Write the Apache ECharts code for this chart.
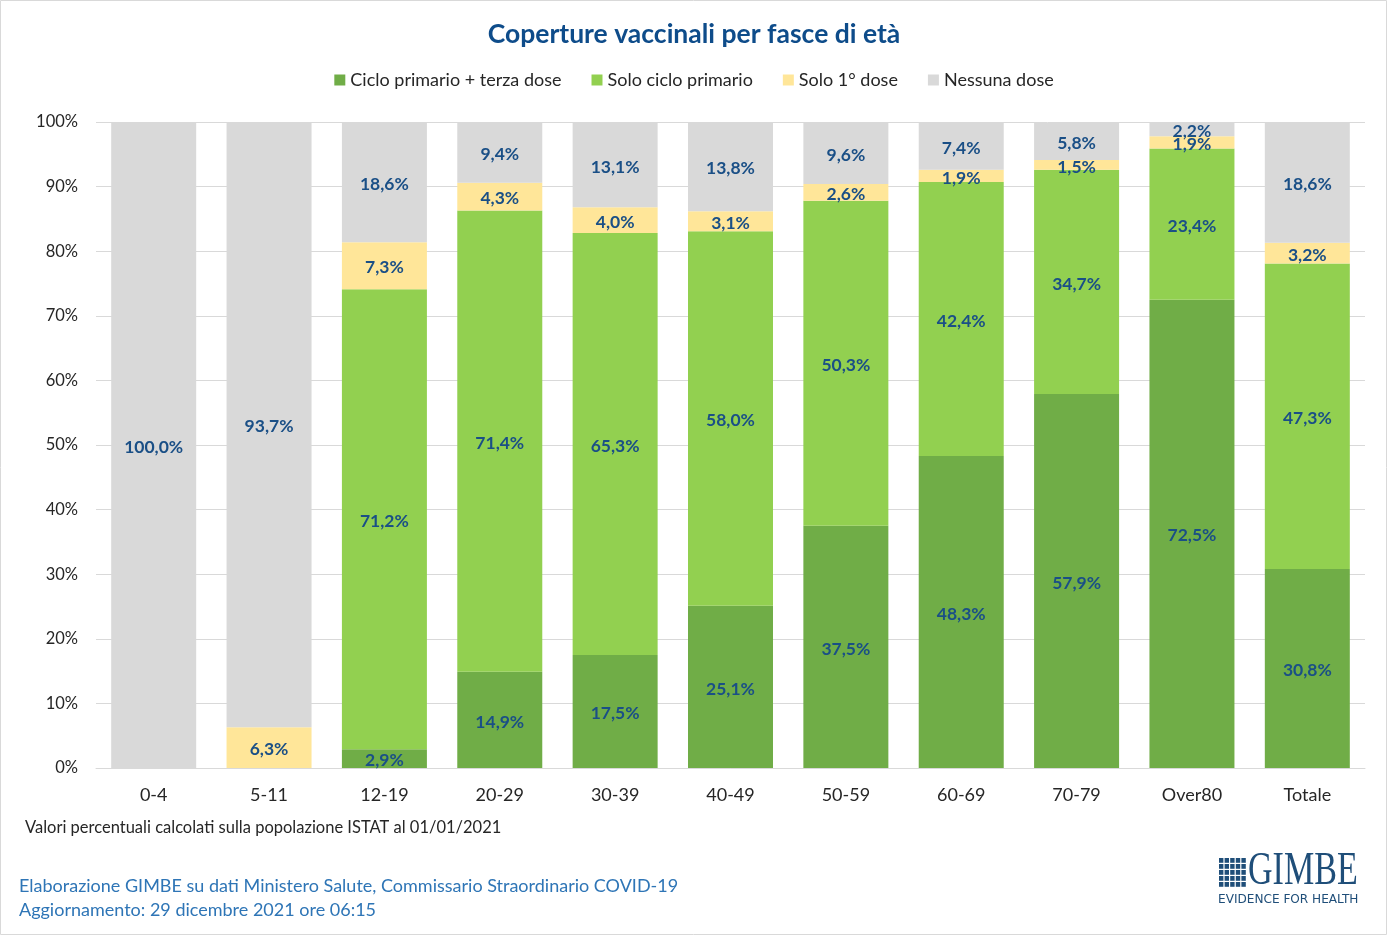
<!DOCTYPE html>
<html><head><meta charset="utf-8">
<script src="https://cdn.jsdelivr.net/npm/echarts@6/dist/echarts.min.js"></script>
<style>html,body{margin:0;padding:0;background:#fff}#c{width:1388px;height:936px}</style>
</head><body><div id="c"></div>
<script>
const categories = ['0-4','5-11','12-19','20-29','30-39','40-49','50-59','60-69','70-79','Over80','Totale'];
const terzaDose = [0,0,2.9,14.9,17.5,25.1,37.5,48.3,57.9,72.5,30.8];
const cicloPrimario = [0,0,71.2,71.4,65.3,58.0,50.3,42.4,34.7,23.4,47.3];
const primaDose = [0,6.3,7.3,4.3,4.0,3.1,2.6,1.9,1.5,1.9,3.2];
const nessunaDose = [100.0,93.7,18.6,9.4,13.1,13.8,9.6,7.4,5.8,2.2,18.6];
const seriesNames = ['Ciclo primario + terza dose','Solo ciclo primario','Solo 1° dose','Nessuna dose'];
const colors = ['#70AD47','#92D050','#FFE699','#D9D9D9'];

const FONT = 'Lato, "Open Sans", sans-serif';
const fmt = p => p.value > 0 ? p.value.toFixed(1).replace('.', ',') + '%' : '';
const mk = (name, data, color) => ({
  name, type: 'bar', stack: 'tot', data, barWidth: 85,
  itemStyle: { color },
  label: { show: true, position: 'inside', offset: [0, 2], formatter: fmt, color: '#1A4F86', fontWeight: 'bold', fontSize: 17.5, fontFamily: FONT }
});

const logoSquares = [];
for (let r = 0; r < 5; r++) for (let c = 0; c < 5; c++) {
  logoSquares.push({ type: 'rect', shape: { x: 1219 + c * 5.6, y: 858 + r * 6, width: 4.4, height: 4.8 }, style: { fill: '#1F4E79' } });
}

const chart = echarts.init(document.getElementById('c'));
chart.setOption({
  animation: false,
  textStyle: { fontFamily: FONT },
  title: { text: 'Coperture vaccinali per fasce di età', left: 'center', top: 16,
    textStyle: { color: '#0E4C8A', fontSize: 26.5, fontWeight: 'bold', fontFamily: FONT } },
  legend: { top: 66, left: 'center', itemWidth: 11, itemHeight: 11, itemGap: 30, icon: 'rect',
    textStyle: { fontSize: 18, color: '#262626', fontFamily: FONT }, data: seriesNames },
  grid: { left: 96, right: 23, top: 122, bottom: 168 },
  xAxis: { type: 'category', data: categories,
    axisLine: { lineStyle: { color: '#D9D9D9' } }, axisTick: { show: false },
    axisLabel: { fontSize: 18, color: '#262626', margin: 18, fontFamily: FONT } },
  yAxis: { type: 'value', min: 0, max: 100, interval: 10,
    axisLabel: { formatter: '{value}%', fontSize: 16.5, color: '#262626', margin: 18, fontFamily: FONT },
    splitLine: { lineStyle: { color: '#D9D9D9' } } },
  series: [
    mk(seriesNames[0], terzaDose, colors[0]),
    mk(seriesNames[1], cicloPrimario, colors[1]),
    mk(seriesNames[2], primaDose, colors[2]),
    mk(seriesNames[3], nessunaDose, colors[3])
  ],
  graphic: [
    { type: 'rect', shape: { x: 0.5, y: 0.5, width: 1386, height: 934 }, style: { fill: 'none', stroke: '#D9D9D9', lineWidth: 1 } },
    { type: 'text', left: 25, top: 819, style: { text: 'Valori percentuali calcolati sulla popolazione ISTAT al 01/01/2021', fontSize: 16.5, fill: '#262626', fontFamily: FONT } },
    { type: 'text', left: 19, top: 877, style: { text: 'Elaborazione GIMBE su dati Ministero Salute, Commissario Straordinario COVID-19', fontSize: 18, fill: '#2E75B6', fontFamily: FONT } },
    { type: 'text', left: 19, top: 901, style: { text: 'Aggiornamento: 29 dicembre 2021 ore 06:15', fontSize: 18, fill: '#2E75B6', fontFamily: FONT } },
    ...logoSquares,
    { type: 'text', x: 1248, y: 849, scaleX: 0.74, style: { text: 'GIMBE', fontSize: 46, fill: '#1F4E79', fontFamily: '"Liberation Serif", serif' } },
    { type: 'text', x: 1218, y: 894, scaleX: 1.12, style: { text: 'EVIDENCE FOR HEALTH', fontSize: 12, fill: '#1F4E79', fontFamily: '"DejaVu Sans Condensed", sans-serif' } }
  ]
});
</script></body></html>
